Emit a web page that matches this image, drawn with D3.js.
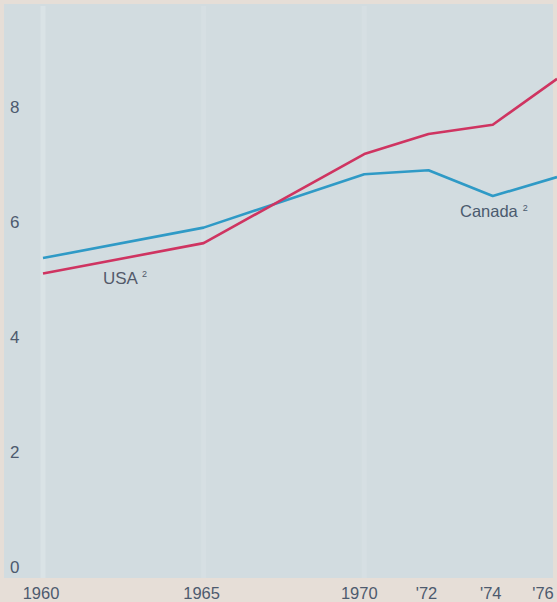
<!DOCTYPE html>
<html>
<head>
<meta charset="utf-8">
<script src="https://cdn.jsdelivr.net/npm/d3@7"></script>
<style>
  body { margin: 0; background: #e6ded7; }
  svg { display: block; font-family: "Liberation Sans", Arial, sans-serif; }
</style>
</head>
<body>
<div id="chart"></div>
<script>
// data
var years = [1960, 1965, 1970, 1972, 1974, 1976];
var yearLabels = ["1960", "1965", "1970", "'72", "'74", "'76"];
var usa = [5.10, 5.63, 7.18, 7.53, 7.69, 8.49];
var canada = [5.37, 5.90, 6.83, 6.90, 6.45, 6.78];
var yTicks = [0, 2, 4, 6, 8];

var width = 557, height = 602;

var svg = d3.select("#chart")
  .append("svg")
    .attr("width", width)
    .attr("height", height);

// x: 1960 at left line, 1976 at right edge
var x = d3.scaleLinear()
    .domain([1960, 1976])
    .range([43, 557]);

var y = d3.scaleLinear()
    .domain([0, 8])
    .range([566.5, 107]);

// panel background
svg.append("rect")
    .attr("x", 4).attr("y", 4)
    .attr("width", 549).attr("height", 574)
    .attr("fill", "#d2dce0");

// faint light bands at the main years
svg.append("g")
  .selectAll("line")
  .data([1960, 1965, 1970])
  .enter()
  .append("line")
    .attr("x1", function(d) { return x(d); })
    .attr("x2", function(d) { return x(d); })
    .attr("y1", 6)
    .attr("y2", 578)
    .attr("stroke", "#e2eaec")
    .attr("stroke-width", 5)
    .attr("opacity", function(d) { return d == 1960 ? 0.5 : 0.25; });

// y tick labels
svg.append("g")
  .selectAll("text")
  .data(yTicks)
  .enter()
  .append("text")
    .attr("x", 10)
    .attr("y", function(d) { return y(d); })
    .attr("dy", "0.36em")
    .attr("font-size", 17)
    .attr("fill", "#4d5a6e")
    .text(function(d) { return d; });

// x tick labels
svg.append("g")
  .selectAll("text")
  .data(years)
  .enter()
  .append("text")
    .attr("x", function(d) { return d == 1976 ? x(d) - 14 : (d == 1970 ? x(d) - 5 : x(d) - 2); })
    .attr("y", 599)
    .attr("text-anchor", "middle")
    .attr("font-size", 16.5)
    .attr("fill", "#4d5a6e")
    .text(function(d, i) { return yearLabels[i]; });

var line = d3.line()
    .x(function(d, i) { return x(years[i]); })
    .y(function(d) { return y(d); });

svg.append("path")
    .datum(canada)
    .attr("d", line)
    .attr("fill", "none")
    .attr("stroke", "#2f9ac6")
    .attr("stroke-width", 2.6)
    .attr("stroke-linejoin", "round");

svg.append("path")
    .datum(usa)
    .attr("d", line)
    .attr("fill", "none")
    .attr("stroke", "#cf3461")
    .attr("stroke-width", 2.6)
    .attr("stroke-linejoin", "round");

// series labels
var usaLabel = svg.append("text")
    .attr("x", 103).attr("y", 284)
    .attr("font-size", 17)
    .attr("fill", "#535a6a");
usaLabel.append("tspan").text("USA");
usaLabel.append("tspan").attr("dx", 4).attr("dy", -7).attr("font-size", 9).text("2");

var canLabel = svg.append("text")
    .attr("x", 460).attr("y", 217)
    .attr("font-size", 16.5)
    .attr("fill", "#4a5a6e");
canLabel.append("tspan").text("Canada");
canLabel.append("tspan").attr("dx", 5).attr("dy", -6).attr("font-size", 9).text("2");
</script>
</body>
</html>
